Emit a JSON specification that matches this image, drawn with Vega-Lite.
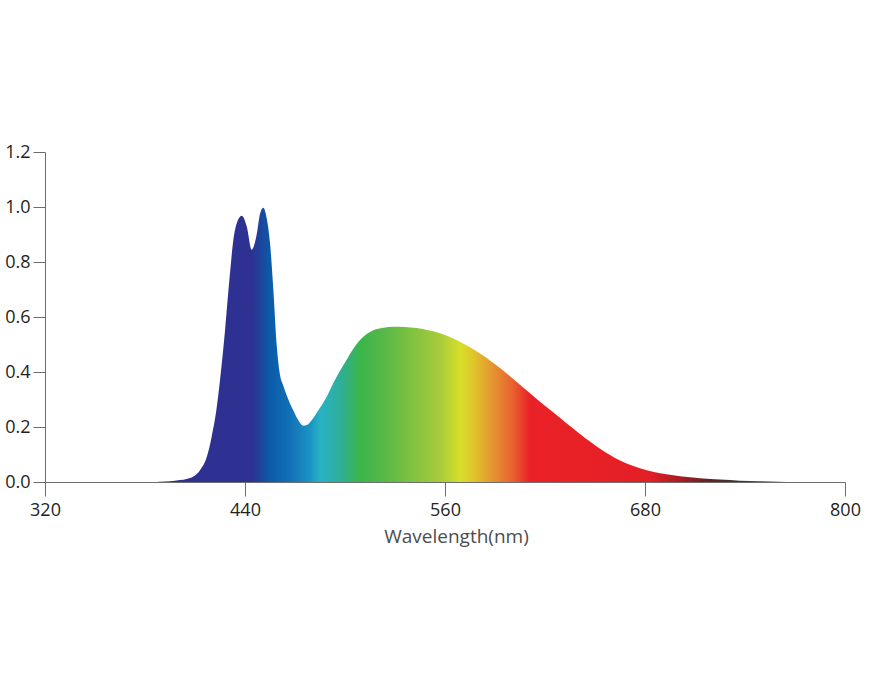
{
  "$schema": "https://vega.github.io/schema/vega-lite/v6.json",
  "autosize": "none",
  "width": 800,
  "height": 330,
  "padding": {"left": 45, "top": 152, "right": 25, "bottom": 218},
  "background": "white",
  "config": {
    "view": {"stroke": null},
    "font": "Open Sans",
    "axis": {
      "domainColor": "#6d6d6d",
      "tickColor": "#6d6d6d",
      "labelColor": "#231f20",
      "labelFont": "Open Sans",
      "labelFontSize": 18,
      "titleFont": "Open Sans",
      "titleFontSize": 19,
      "titleFontWeight": "normal",
      "titleColor": "#4d4d4d",
      "grid": false,
      "zindex": 1
    }
  },
  "data": {
    "values": [
      {"nm": 320, "value": 0},
      {"nm": 385, "value": 0},
      {"nm": 389, "value": 0.001},
      {"nm": 395, "value": 0.003},
      {"nm": 401, "value": 0.007},
      {"nm": 405, "value": 0.011},
      {"nm": 409, "value": 0.02},
      {"nm": 413, "value": 0.043},
      {"nm": 417, "value": 0.09},
      {"nm": 420, "value": 0.165},
      {"nm": 423, "value": 0.27},
      {"nm": 425, "value": 0.37},
      {"nm": 428, "value": 0.55},
      {"nm": 431, "value": 0.76},
      {"nm": 433, "value": 0.88},
      {"nm": 435, "value": 0.94},
      {"nm": 438, "value": 0.968},
      {"nm": 441, "value": 0.93},
      {"nm": 444, "value": 0.845},
      {"nm": 447, "value": 0.9},
      {"nm": 449, "value": 0.975},
      {"nm": 451, "value": 0.997},
      {"nm": 453, "value": 0.96},
      {"nm": 455, "value": 0.87},
      {"nm": 457, "value": 0.7},
      {"nm": 459, "value": 0.5},
      {"nm": 461, "value": 0.39},
      {"nm": 463, "value": 0.35},
      {"nm": 466, "value": 0.3},
      {"nm": 469, "value": 0.26},
      {"nm": 472, "value": 0.225},
      {"nm": 475, "value": 0.205},
      {"nm": 477, "value": 0.207},
      {"nm": 480, "value": 0.225},
      {"nm": 485, "value": 0.27},
      {"nm": 489, "value": 0.31},
      {"nm": 493, "value": 0.36},
      {"nm": 497, "value": 0.405},
      {"nm": 501, "value": 0.445},
      {"nm": 505, "value": 0.485},
      {"nm": 509, "value": 0.516},
      {"nm": 513, "value": 0.538},
      {"nm": 517, "value": 0.552},
      {"nm": 523, "value": 0.561},
      {"nm": 529, "value": 0.565},
      {"nm": 536, "value": 0.564},
      {"nm": 543, "value": 0.56},
      {"nm": 550, "value": 0.552},
      {"nm": 557, "value": 0.541},
      {"nm": 563, "value": 0.527},
      {"nm": 569, "value": 0.51},
      {"nm": 575, "value": 0.49},
      {"nm": 581, "value": 0.467},
      {"nm": 587, "value": 0.442},
      {"nm": 593, "value": 0.415},
      {"nm": 599, "value": 0.385},
      {"nm": 605, "value": 0.354},
      {"nm": 611, "value": 0.323},
      {"nm": 617, "value": 0.292},
      {"nm": 623, "value": 0.263},
      {"nm": 629, "value": 0.234},
      {"nm": 635, "value": 0.204},
      {"nm": 641, "value": 0.175},
      {"nm": 647, "value": 0.147},
      {"nm": 653, "value": 0.121},
      {"nm": 659, "value": 0.098},
      {"nm": 665, "value": 0.078},
      {"nm": 673, "value": 0.058},
      {"nm": 681, "value": 0.043},
      {"nm": 691, "value": 0.03},
      {"nm": 701, "value": 0.021},
      {"nm": 713, "value": 0.014},
      {"nm": 725, "value": 0.009},
      {"nm": 737, "value": 0.005},
      {"nm": 749, "value": 0.003},
      {"nm": 760, "value": 0.001},
      {"nm": 770, "value": 0},
      {"nm": 800, "value": 0}
    ]
  },
  "mark": {
    "type": "area",
    "interpolate": "monotone",
    "line": false,
    "color": {
      "gradient": "linear",
      "x1": 0, "x2": 1, "y1": 0, "y2": 0,
      "stops": [
        {"offset": 0, "color": "#2e3192"},
        {"offset": 0.259, "color": "#2e3192"},
        {"offset": 0.281, "color": "#0b5aa8"},
        {"offset": 0.306, "color": "#1270b6"},
        {"offset": 0.331, "color": "#1b93c5"},
        {"offset": 0.344, "color": "#27b2c4"},
        {"offset": 0.369, "color": "#2fae9a"},
        {"offset": 0.394, "color": "#3ab54a"},
        {"offset": 0.419, "color": "#52b848"},
        {"offset": 0.469, "color": "#8cc43f"},
        {"offset": 0.494, "color": "#a8cb3a"},
        {"offset": 0.519, "color": "#d6df2a"},
        {"offset": 0.535, "color": "#e0c62b"},
        {"offset": 0.56, "color": "#e59430"},
        {"offset": 0.585, "color": "#e8612f"},
        {"offset": 0.606, "color": "#ea2227"},
        {"offset": 0.756, "color": "#e31f26"},
        {"offset": 0.794, "color": "#a81c22"},
        {"offset": 0.831, "color": "#5e2222"},
        {"offset": 0.869, "color": "#3a3a3a"},
        {"offset": 1, "color": "#666666"}
      ]
    }
  },
  "encoding": {
    "x": {
      "field": "nm",
      "type": "quantitative",
      "title": "Wavelength(nm)",
      "scale": {"domain": [320, 800], "nice": false, "zero": false},
      "axis": {
        "values": [320, 440, 560, 680, 800],
        "tickSize": 14,
        "labelPadding": 5,
        "titlePadding": 8,
        "titleX": 411,
        "labelFlush": false
      }
    },
    "y": {
      "field": "value",
      "type": "quantitative",
      "title": null,
      "scale": {"domain": [0, 1.2], "nice": false},
      "axis": {
        "values": [0, 0.2, 0.4, 0.6, 0.8, 1.0, 1.2],
        "format": ".1f",
        "tickSize": 12,
        "labelPadding": 3
      }
    }
  }
}
